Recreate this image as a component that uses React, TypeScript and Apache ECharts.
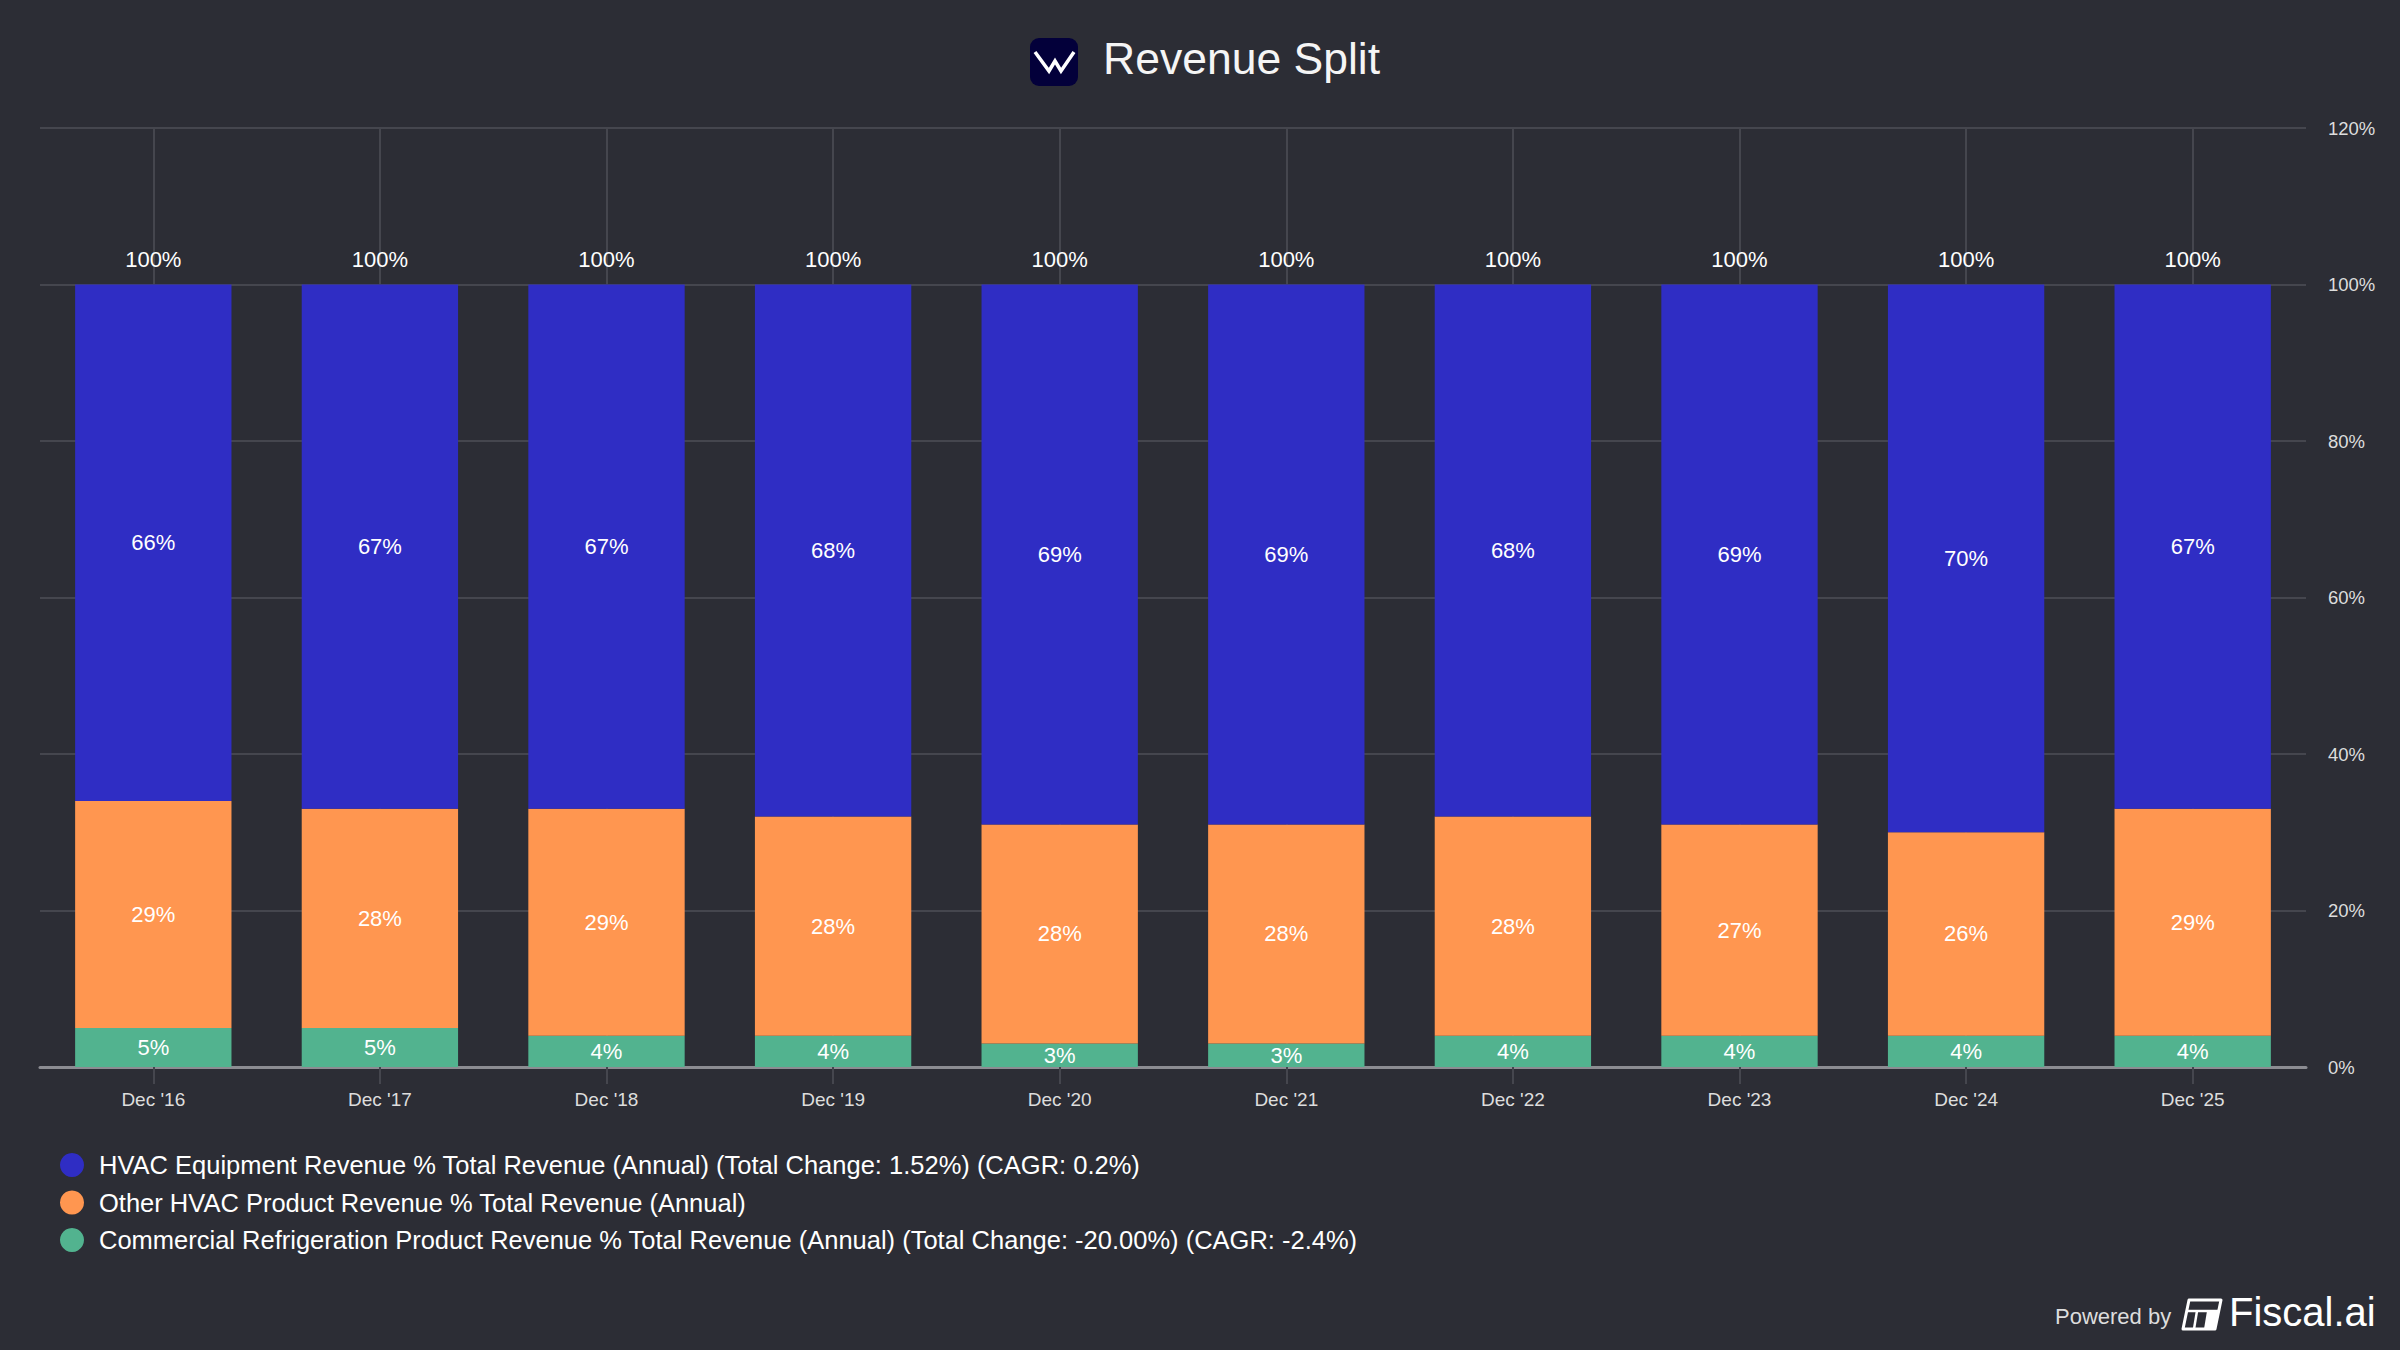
import React, { useEffect, useRef } from "react";
import * as echarts from "echarts";

const categories = ["Dec '16", "Dec '17", "Dec '18", "Dec '19", "Dec '20", "Dec '21", "Dec '22", "Dec '23", "Dec '24", "Dec '25"];
const hvacEquipment = [66, 67, 67, 68, 69, 69, 68, 69, 70, 67];
const otherHvac = [29, 28, 29, 28, 28, 28, 28, 27, 26, 29];
const commercialRefrig = [5, 5, 4, 4, 3, 3, 4, 4, 4, 4];
const yTicks = { min: 0, max: 120, interval: 20 };

const seriesNames = [
  "HVAC Equipment Revenue % Total Revenue (Annual) (Total Change: 1.52%) (CAGR: 0.2%)",
  "Other HVAC Product Revenue % Total Revenue (Annual)",
  "Commercial Refrigeration Product Revenue % Total Revenue (Annual) (Total Change: -20.00%) (CAGR: -2.4%)",
];

const BG = "#2c2d35";
const BLUE = "#2f2dc4";
const ORANGE = "#ff9650";
const GREEN = "#52b38f";
const FONT = "'Liberation Sans', Arial, Helvetica, sans-serif";

export default function App() {
  const ref = useRef<HTMLDivElement>(null);

  useEffect(() => {
    document.body.style.margin = "0";
    document.body.style.background = BG;
    const chart = echarts.init(ref.current!, null, { renderer: "svg" });
    const totals = categories.map((_, i) => hvacEquipment[i] + otherHvac[i] + commercialRefrig[i]);

    const innerLabel = {
      show: true,
      position: "inside",
      color: "#ffffff",
      fontSize: 22,
      fontFamily: FONT,
      formatter: (p: any) => `${p.value}%`,
    };

    chart.setOption({
      animation: false,
      backgroundColor: BG,
      textStyle: { fontFamily: FONT },
      grid: { left: 40, right: 94, top: 128, bottom: 283, containLabel: false },
      legend: {
        orient: "vertical",
        left: 55,
        top: 1147,
        itemWidth: 24,
        itemHeight: 24,
        itemGap: 11.5,
        icon: "circle",
        data: seriesNames,
        textStyle: { color: "#ffffff", fontSize: 25.5, fontFamily: FONT, padding: [0, 0, 0, 10] },
        selectedMode: false,
      },
      xAxis: {
        type: "category",
        data: categories,
        boundaryGap: true,
        axisLine: { show: true, lineStyle: { color: "#8c8c92", width: 3 } },
        axisTick: { show: true, alignWithLabel: true, length: 17, lineStyle: { color: "#45464e", width: 2 } },
        axisLabel: { color: "#dddddd", fontSize: 19, margin: 23, fontFamily: FONT },
        splitLine: { show: true, alignWithLabel: true, lineStyle: { color: "#45464e", width: 2 } },
      },
      yAxis: {
        type: "value",
        position: "right",
        min: yTicks.min,
        max: yTicks.max,
        interval: yTicks.interval,
        axisLine: { show: false },
        axisTick: { show: false },
        axisLabel: { color: "#dddddd", fontSize: 18.5, margin: 22, fontFamily: FONT, formatter: "{value}%" },
        splitLine: { show: true, lineStyle: { color: "#45464e", width: 2 } },
      },
      series: [
        {
          name: seriesNames[2],
          type: "bar",
          stack: "total",
          barWidth: "69%",
          data: commercialRefrig,
          itemStyle: { color: GREEN },
          label: innerLabel,
        },
        {
          name: seriesNames[1],
          type: "bar",
          stack: "total",
          barWidth: "69%",
          data: otherHvac,
          itemStyle: { color: ORANGE },
          label: innerLabel,
        },
        {
          name: seriesNames[0],
          type: "bar",
          stack: "total",
          barWidth: "69%",
          data: hvacEquipment,
          itemStyle: { color: BLUE },
          label: innerLabel,
        },
        {
          name: "Total",
          type: "bar",
          barWidth: "69%",
          barGap: "-100%",
          data: totals,
          silent: true,
          z: 1,
          itemStyle: { color: "rgba(0,0,0,0)" },
          label: {
            show: true,
            position: "top",
            distance: 14,
            color: "#ffffff",
            fontSize: 22,
            fontFamily: FONT,
            formatter: (p: any) => `${p.value}%`,
          },
        },
      ],
      graphic: [
        {
          type: "rect",
          shape: { x: 1030, y: 38, width: 48, height: 48, r: 9 },
          style: { fill: "#03003a" },
        },
        {
          type: "polyline",
          shape: { points: [[1035, 52], [1049, 71], [1055, 61], [1061, 71], [1074, 52]] },
          style: { stroke: "#ffffff", lineWidth: 3.5, fill: "none", lineJoin: "miter" },
        },
        {
          type: "text",
          left: 1103,
          top: 36,
          style: { text: "Revenue Split", fill: "#f5f5f5", fontSize: 44.5, fontFamily: FONT },
        },
        {
          type: "text",
          left: 2055,
          top: 1305,
          style: { text: "Powered by", fill: "#dddddd", fontSize: 22, fontFamily: FONT },
        },
        {
          type: "polygon",
          shape: { points: [[2189, 1300], [2221, 1300], [2215, 1329], [2183, 1329]] },
          style: { stroke: "#ffffff", lineWidth: 3, fill: "none", lineJoin: "round" },
        },
        {
          type: "line",
          shape: { x1: 2187, y1: 1311, x2: 2218, y2: 1311 },
          style: { stroke: "#ffffff", lineWidth: 2.5 },
        },
        {
          type: "line",
          shape: { x1: 2197, y1: 1311, x2: 2194, y2: 1329 },
          style: { stroke: "#ffffff", lineWidth: 2.5 },
        },
        {
          type: "polygon",
          shape: { points: [[2207, 1311], [2218, 1311], [2215, 1329], [2204, 1329]] },
          style: { fill: "#ffffff" },
        },
        {
          type: "text",
          left: 2229,
          top: 1292,
          style: { text: "Fiscal.ai", fill: "#ffffff", fontSize: 40, fontWeight: 500, fontFamily: FONT },
        },
      ],
    });

    return () => chart.dispose();
  }, []);

  return (
    <div
      ref={ref}
      style={{ position: "fixed", left: 0, top: 0, width: 2400, height: 1350, background: BG }}
    />
  );
}
